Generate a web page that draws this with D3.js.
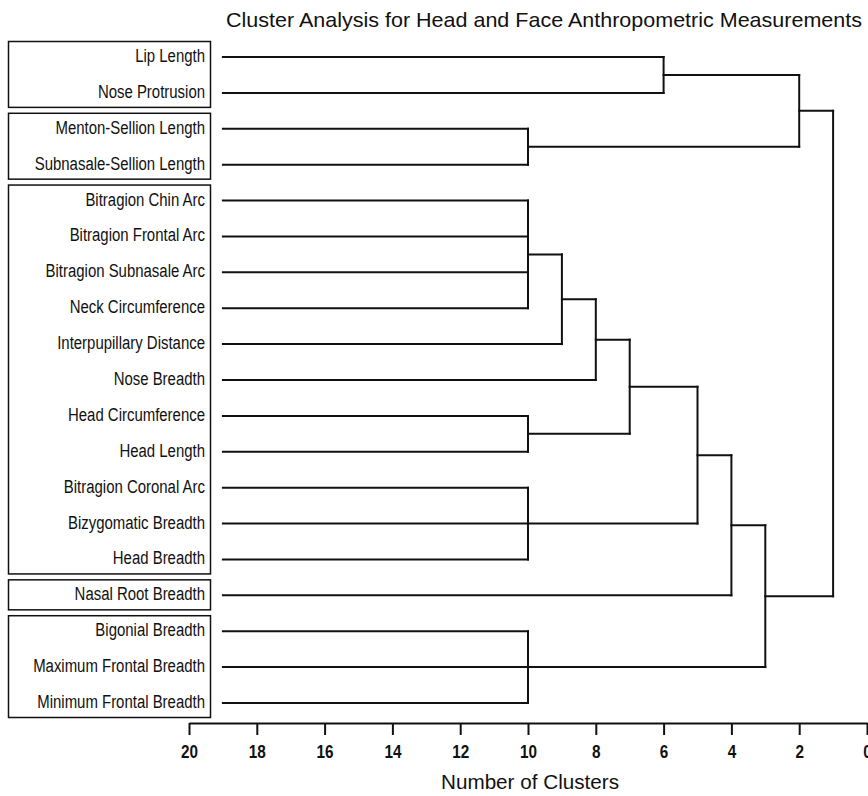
<!DOCTYPE html>
<html lang="en">
<head>
    <meta charset="UTF-8">
    <title>Cluster Analysis for Head and Face Anthropometric Measurements</title>
    <script src="https://d3js.org/d3.v7.min.js"></script>
    <style>
        body { margin: 0; background: #fff; }
        .leaf text { font: 18px "Liberation Sans", Arial, sans-serif; fill: #111; }
        .tick text { font: bold 18px "Liberation Sans", Arial, sans-serif; fill: #111; }
        .title { font: 21px "Liberation Sans", Arial, sans-serif; fill: #111; }
        .xlabel { font: 20px "Liberation Sans", Arial, sans-serif; fill: #111; }
    </style>
</head>
<body>
<svg id="chart" width="868" height="796"></svg>
<script>
    // leaves, top to bottom
    var leaves = ["Lip Length", "Nose Protrusion", "Menton-Sellion Length", "Subnasale-Sellion Length",
        "Bitragion Chin Arc", "Bitragion Frontal Arc", "Bitragion Subnasale Arc", "Neck Circumference",
        "Interpupillary Distance", "Nose Breadth", "Head Circumference", "Head Length",
        "Bitragion Coronal Arc", "Bizygomatic Breadth", "Head Breadth", "Nasal Root Breadth",
        "Bigonial Breadth", "Maximum Frontal Breadth", "Minimum Frontal Breadth"];

    // boxed groups of leaves (count per box)
    var groupSizes = [2, 2, 11, 1, 3];

    // merges: id, children, number of clusters where they join
    var mergeIds = ["m1", "m2", "m3", "m4", "m5", "m6", "m7", "m8", "m9", "m10", "m11", "m12", "m13", "m14"];
    var mergeChildren = [
        ["Lip Length", "Nose Protrusion"],
        ["Menton-Sellion Length", "Subnasale-Sellion Length"],
        ["m1", "m2"],
        ["Bitragion Chin Arc", "Bitragion Frontal Arc", "Bitragion Subnasale Arc", "Neck Circumference"],
        ["m4", "Interpupillary Distance"],
        ["m5", "Nose Breadth"],
        ["Head Circumference", "Head Length"],
        ["m6", "m7"],
        ["Bitragion Coronal Arc", "Bizygomatic Breadth", "Head Breadth"],
        ["m8", "m9"],
        ["m10", "Nasal Root Breadth"],
        ["Bigonial Breadth", "Maximum Frontal Breadth", "Minimum Frontal Breadth"],
        ["m11", "m12"],
        ["m3", "m13"]
    ];
    var mergeLevels = [6, 10, 2, 10, 9, 8, 10, 7, 10, 5, 4, 10, 3, 1];
    var leafLevel = 19;

    var xTicks = [20, 18, 16, 14, 12, 10, 8, 6, 4, 2, 0];

    var svg = d3.select("#chart");

    var x = d3.scaleLinear().domain([20, 0]).range([189, 867]);
    var y = d3.scalePoint().domain(leaves).range([57, 703]);

    // squeeze text horizontally, the original uses a narrow font
    function narrow(sel, k) {
        sel.each(function() {
            var w = this.getComputedTextLength();
            d3.select(this).attr("textLength", w * k).attr("lengthAdjust", "spacingAndGlyphs");
        });
    }

    // node positions
    var pos = {};
    leaves.forEach(function(d) { pos[d] = { x: x(leafLevel), y: y(d) }; });

    var links = [];
    mergeIds.forEach(function(id, i) {
        var kids = mergeChildren[i];
        var xm = x(mergeLevels[i]);
        var ys = kids.map(function(k) { return pos[k].y; });
        kids.forEach(function(k) {
            links.push([[pos[k].x, pos[k].y], [xm, pos[k].y]]);
        });
        links.push([[xm, d3.min(ys)], [xm, d3.max(ys)]]);
        pos[id] = { x: xm, y: (d3.min(ys) + d3.max(ys)) / 2 };
    });

    svg.append("g")
        .selectAll("path")
        .data(links)
        .enter().append("path")
        .attr("d", d3.line())
        .attr("fill", "none")
        .attr("stroke", "#111")
        .attr("stroke-width", 2)
        .attr("stroke-linecap", "square");

    // label boxes
    var start = 0;
    var boxes = groupSizes.map(function(n) {
        var b = { first: leaves[start], last: leaves[start + n - 1] };
        start += n;
        return b;
    });

    svg.append("g")
        .selectAll("rect")
        .data(boxes)
        .enter().append("rect")
        .attr("x", 8.5)
        .attr("width", 202)
        .attr("y", function(d) { return y(d.first) - 15.5; })
        .attr("height", function(d) { return y(d.last) - y(d.first) + 30; })
        .attr("fill", "none")
        .attr("stroke", "#111")
        .attr("stroke-width", 1.5);

    svg.append("g")
        .attr("class", "leaf")
        .selectAll("text")
        .data(leaves)
        .enter().append("text")
        .attr("x", 205)
        .attr("y", function(d) { return y(d) + 5; })
        .attr("text-anchor", "end")
        .text(function(d) { return d; })
        .call(narrow, 0.83);

    // x axis
    var axis = svg.append("g")
        .attr("transform", "translate(0,723)")
        .call(d3.axisBottom(x).tickValues(xTicks).tickSize(12).tickSizeOuter(0).tickPadding(10));
    axis.select(".domain").attr("stroke", "#111").attr("stroke-width", 2);
    axis.selectAll(".tick line").attr("stroke", "#111").attr("stroke-width", 2);
    axis.selectAll(".tick text").call(narrow, 0.85);

    svg.append("text")
        .attr("class", "title")
        .attr("x", 544)
        .attr("y", 27)
        .attr("text-anchor", "middle")
        .attr("textLength", 636)
        .attr("lengthAdjust", "spacingAndGlyphs")
        .text("Cluster Analysis for Head and Face Anthropometric Measurements");

    svg.append("text")
        .attr("class", "xlabel")
        .attr("x", 530)
        .attr("y", 789)
        .attr("text-anchor", "middle")
        .attr("textLength", 178)
        .attr("lengthAdjust", "spacingAndGlyphs")
        .text("Number of Clusters");
</script>
</body>
</html>
